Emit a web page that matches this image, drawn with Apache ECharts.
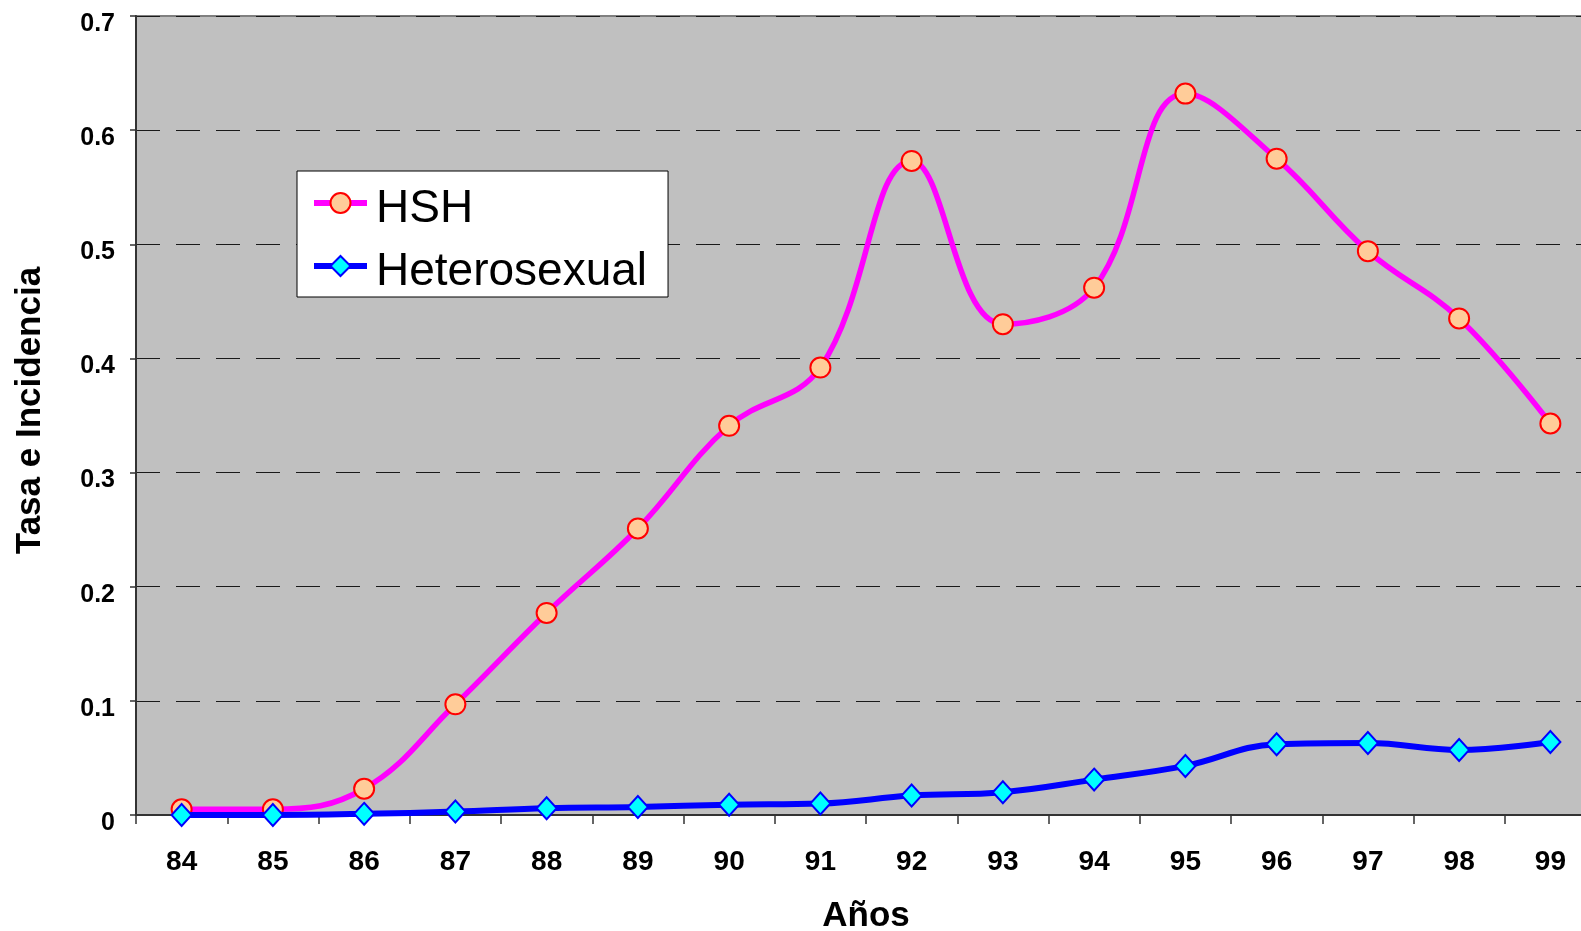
<!DOCTYPE html>
<html>
<head>
<meta charset="utf-8">
<title>Tasa e Incidencia</title>
<script src="https://cdn.jsdelivr.net/npm/echarts@6/dist/echarts.min.js"></script>
<style>
  html, body { margin: 0; padding: 0; background: #fff; }
  #chart { width: 1581px; height: 931px; }
</style>
</head>
<body>
<div id="chart"></div>
<script>
// Años (categorías del eje X)
const years = ['84', '85', '86', '87', '88', '89', '90', '91', '92', '93', '94', '95', '96', '97', '98', '99'];
// Tasa de incidencia por grupo de transmisión
const hsh = [0.005, 0.005, 0.023, 0.097, 0.177, 0.251, 0.341, 0.392, 0.573, 0.430, 0.462, 0.632, 0.575, 0.494, 0.435, 0.343];
const heterosexual = [0.000, 0.000, 0.001, 0.003, 0.006, 0.007, 0.009, 0.010, 0.017, 0.020, 0.031, 0.043, 0.062, 0.063, 0.057, 0.064];
// Marcas del eje Y
const yMin = 0, yMax = 0.7, yStep = 0.1;

const FONT = 'Arial, "Liberation Sans", Helvetica, sans-serif';

const chart = echarts.init(document.getElementById('chart'));
chart.setOption({
  animation: false,
  backgroundColor: '#ffffff',
  grid: {
    left: 136, top: 16, width: 1460, height: 799,
    outerBoundsMode: 'none',
    containLabel: false,
    show: true,
    backgroundColor: '#c0c0c0',
    borderColor: '#808080',
    borderWidth: 2
  },
  legend: {
    orient: 'vertical',
    left: 297, top: 171,
    padding: [15, 21, 2, 14],
    itemGap: 17,
    itemWidth: 53,
    itemHeight: 25,
    backgroundColor: '#ffffff',
    borderColor: '#000000',
    borderWidth: 1,
    borderRadius: 0,
    lineStyle: { width: 6 },
    formatter: name => '{t|' + name + '}',
    textStyle: {
      fontFamily: FONT, fontSize: 46, color: '#000',
      rich: { t: { fontFamily: FONT, fontSize: 46, color: '#000', padding: [12, 0, 0, 4] } }
    },
    data: ['HSH', 'Heterosexual']
  },
  xAxis: {
    type: 'category',
    data: years,
    boundaryGap: true,
    name: 'Años',
    nameLocation: 'middle',
    nameGap: 84,
    nameTextStyle: { fontFamily: FONT, fontSize: 35, fontWeight: 'bold', color: '#000' },
    axisLine: { show: true, lineStyle: { color: '#333', width: 2 } },
    axisTick: { show: true, interval: 0, length: 9, lineStyle: { color: '#333', width: 1.5 } },
    axisLabel: { interval: 0, margin: 33, fontFamily: FONT, fontSize: 28, fontWeight: 'bold', color: '#000' },
    splitLine: { show: false }
  },
  yAxis: {
    type: 'value',
    min: yMin, max: yMax, interval: yStep,
    name: 'Tasa e Incidencia',
    nameLocation: 'middle',
    nameGap: 88,
    nameTextStyle: { fontFamily: FONT, fontSize: 35, fontWeight: 'bold', color: '#000', padding: [0, 0, 0, 10] },
    axisLine: { show: true, lineStyle: { color: '#333', width: 2 } },
    axisTick: { show: true, length: 6, lineStyle: { color: '#333', width: 1.5 } },
    axisLabel: {
      margin: 21, fontFamily: FONT, fontSize: 25, fontWeight: 'bold', color: '#000',
      formatter: v => '{v|' + (Math.round(v * 10) / 10).toString() + '}',
      rich: { v: { fontFamily: FONT, fontSize: 25, fontWeight: 'bold', color: '#000', padding: [16, 0, 0, 0] } }
    },
    splitLine: { show: true, lineStyle: { color: '#1a1a1a', width: 1.2, type: [24, 16] } }
  },
  series: [
    {
      name: 'HSH',
      type: 'line',
      data: hsh,
      smooth: 0.4,
      symbol: 'circle',
      symbolSize: 20,
      lineStyle: { color: '#ff00ff', width: 5.5 },
      itemStyle: { color: '#ffcc99', borderColor: '#ff0000', borderWidth: 2 },
      z: 3
    },
    {
      name: 'Heterosexual',
      type: 'line',
      data: heterosexual,
      smooth: 0.4,
      symbol: 'diamond',
      symbolSize: [20, 22],
      lineStyle: { color: '#0000ff', width: 6 },
      itemStyle: { color: '#00ffff', borderColor: '#0000ff', borderWidth: 2 },
      z: 4
    }
  ]
});
</script>
</body>
</html>
